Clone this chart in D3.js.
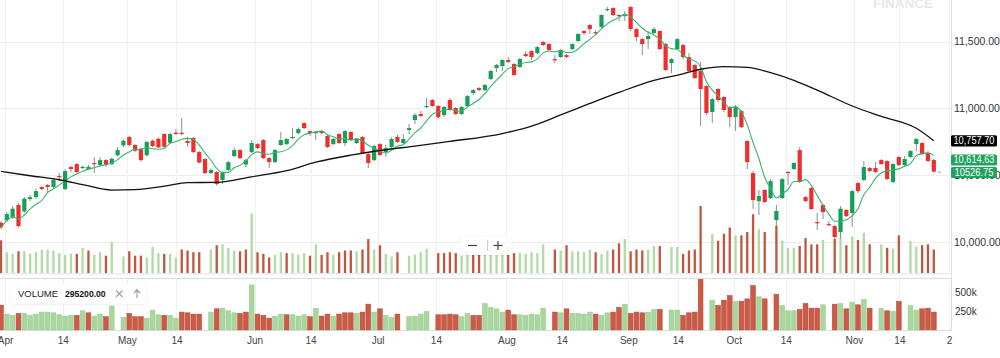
<!DOCTYPE html>
<html><head><meta charset="utf-8">
<script src="https://cdn.jsdelivr.net/npm/d3@7"></script>
<style>
html,body{margin:0;padding:0;background:#fff;}
svg{display:block;font-family:"Liberation Sans",Arial,Helvetica,sans-serif;}
</style></head><body>
<svg id="chart" width="1000" height="358"></svg>
<script>
// ---- DATA (one entry per trading session, oldest first) ----
const open = [10144,10164,10184,10277,10229,10321,10336,10411,10426,10411,
10494,10396,10561,10583,10554,10546,10591,10576,10613,10583,
10649,10723,10786,10726,10698,10649,10758,10773,10808,10743,
10818,10818,10756,10778,10673,10621,10516,10524,10464,10539,
10643,10688,10580,10673,10733,10763,10628,10598,10726,10733,
10778,10815,10890,10830,10815,10830,10793,10733,10808,10741,
10823,10741,10786,10658,10613,10733,10673,10711,10786,10741,
10838,10913,10958,11010,11063,11018,10950,11063,11003,10958,
11018,11115,11152,11137,11220,11302,11317,11362,11332,11310,
11407,11429,11414,11497,11482,11369,11384,11399,11444,11504,
11579,11624,11571,11609,11736,11751,11699,11691,11759,11594,
11519,11519,11564,11579,11482,11339,11444,11474,11384,11325,
11280,11167,10973,11145,11085,11010,10935,10980,10756,10516,
10306,10389,10329,10164,10329,10524,10546,10688,10336,10404,
10149,10277,10134,10119,10074,10240,10217,10441,10464,10554,
10554,10613,10606,10449,10636,10576,10636,10733,10741,10666,10614];
const high = [10157,10224,10269,10292,10336,10351,10400,10422,10434,10479,
10516,10546,10572,10591,10569,10576,10636,10636,10621,10632,
10711,10767,10793,10733,10707,10756,10767,10782,10815,10819,
10845,10928,10786,10786,10681,10628,10550,10531,10527,10606,
10707,10696,10621,10763,10741,10771,10636,10696,10823,10778,
10853,10857,10898,10838,10830,10838,10801,10778,10815,10838,
10830,10778,10793,10666,10726,10741,10726,10786,10801,10808,
10883,10965,10980,11077,11070,11025,11018,11077,11010,11018,
11100,11145,11160,11182,11287,11332,11369,11384,11339,11377,
11429,11437,11467,11504,11489,11399,11444,11407,11489,11564,
11586,11631,11586,11706,11761,11759,11706,11729,11766,11601,
11527,11579,11609,11586,11489,11377,11527,11482,11414,11332,
11347,11175,11077,11152,11092,11018,11025,10988,10763,10531,
10389,10396,10471,10277,10479,10531,10598,10711,10344,10411,
10217,10284,10157,10127,10269,10247,10389,10449,10606,10561,
10598,10621,10613,10591,10643,10643,10688,10778,10748,10681,10621];
const low = [10097,10149,10172,10108,10217,10306,10325,10389,10374,10396,
10456,10389,10524,10516,10546,10539,10516,10569,10561,10576,
10640,10711,10718,10673,10602,10640,10711,10703,10703,10733,
10801,10797,10711,10666,10587,10509,10509,10422,10434,10531,
10636,10621,10561,10666,10696,10621,10554,10591,10718,10726,
10771,10808,10845,10793,10763,10808,10703,10726,10733,10718,
10756,10733,10658,10554,10606,10643,10636,10703,10741,10733,
10808,10883,10935,11003,11010,10928,10935,10980,10950,10950,
11010,11100,11130,11130,11212,11272,11280,11339,11242,11302,
11384,11362,11407,11467,11429,11339,11377,11377,11437,11497,
11549,11557,11549,11601,11726,11691,11654,11654,11579,11504,
11399,11444,11557,11437,11280,11265,11437,11369,11272,11220,
10868,10950,10890,11048,10973,10860,10830,10853,10546,10247,
10202,10292,10321,10119,10321,10426,10539,10441,10299,10240,
10090,10172,10119,10022,10022,10187,10112,10366,10456,10524,
10516,10576,10464,10441,10569,10569,10628,10681,10651,10598,10516];
const close = [10110,10209,10249,10119,10324,10336,10381,10396,10411,10464,
10486,10531,10546,10524,10563,10563,10583,10613,10576,10623,
10688,10758,10726,10683,10613,10748,10718,10708,10713,10808,
10808,10808,10741,10673,10595,10516,10539,10434,10520,10598,
10688,10628,10613,10741,10703,10628,10598,10688,10763,10771,
10786,10845,10853,10815,10823,10815,10711,10771,10741,10830,
10763,10771,10666,10591,10718,10651,10703,10771,10748,10771,
10853,10950,10943,11018,11018,10935,11010,10988,10958,11010,
11092,11137,11137,11175,11280,11325,11362,11347,11250,11369,
11392,11384,11459,11474,11437,11362,11437,11384,11482,11557,
11564,11594,11564,11699,11744,11699,11691,11699,11594,11534,
11482,11542,11594,11444,11287,11369,11519,11384,11280,11227,
11145,10965,11070,11063,10988,10935,11010,10860,10598,10314,
10344,10299,10456,10232,10471,10516,10591,10449,10306,10247,
10142,10224,10127,10037,10249,10194,10381,10381,10561,10531,
10524,10583,10471,10583,10576,10621,10681,10771,10658,10606,10526.75];
// volume (null = no volume bar drawn for that session)
const volume = [330000,211000,194000,220000,220000,194000,211000,238000,238000,228000,
202000,185000,194000,194000,255000,228000,185000,211000,176000,317000,
null,168000,220000,176000,176000,158000,264000,202000,194000,194000,
158000,238000,228000,211000,211000,null,238000,281000,290000,255000,
228000,220000,238000,598000,211000,194000,158000,185000,211000,202000,
202000,185000,202000,176000,290000,185000,211000,185000,211000,228000,
228000,220000,238000,343000,238000,281000,194000,168000,211000,null,
176000,185000,211000,247000,null,202000,202000,211000,202000,176000,
220000,194000,194000,352000,300000,281000,238000,264000,202000,202000,
194000,211000,202000,290000,null,238000,228000,281000,220000,220000,
211000,238000,211000,194000,228000,238000,300000,343000,220000,238000,
228000,238000,273000,273000,null,264000,264000,194000,228000,238000,
673000,null,396000,326000,396000,458000,379000,379000,413000,590000,
440000,413000,null,475000,326000,255000,255000,273000,352000,290000,
290000,334000,null,343000,352000,281000,370000,334000,405000,290000,
null,290000,255000,247000,379000,null,326000,264000,281000,290000,238000];
// volume direction per session (u = up, d = down, - = none)
const volUpDown = [
"d","u","u","d","u","u","u","u","u","u",
"u","u","u","d","u","d","u","u","d","u",
"-","u","d","d","d","u","u","u","d","u",
"u","d","d","d","d","-","u","d","u","u",
"u","d","d","u","d","d","d","u","u","d",
"u","u","u","d","u","d","d","u","d","d",
"d","u","d","d","u","d","u","u","d","-",
"u","u","u","u","-","d","d","d","d","u",
"u","d","d","u","u","u","u","d","d","u",
"u","u","u","u","-","d","u","d","u","u",
"u","u","d","u","u","d","d","u","d","d",
"d","u","u","d","-","u","u","d","d","d",
"d","-","u","d","d","d","u","d","d","d",
"u","d","-","d","u","u","u","d","d","d",
"d","u","-","d","u","d","u","d","u","d",
"-","u","d","u","d","-","u","u","d","d","d"];
// long moving average at selected sessions
const maLongIdx = [0,5,10,14,19,23,28,32,37,43,49,54,60,65,71,77,86,91,96,101,106,112,117,120,124,128,132,136,140,146,151,157,160];
const maLongVal = [10529,10496,10466,10430,10389,10392,10418,10445,10446,10488,10534,10597,10650,10685,10718,10753,10812,10867,10951,11037,11120,11210,11259,11293,11313,11307,11267,11210,11137,11018,10940,10851,10757.70];
const maShortPeriod = 5;
// x-axis ticks (session position) and labels
const tickPos = [0.7,10.6,21.6,30.1,43.5,53.1,64.6,74.6,86.7,96.2,107.6,116.1,125.7,134.6,146.3,154.1,162.6];
const tickLabels = ["Apr","14","May","14","Jun","14","Jul","14","Aug","14","Sep","14","Oct","14","Nov","14","2"];
const priceTicks = [10000,10500,11000,11500];
const volTicks = [250000,500000];
const volLegendValue = "295200.00";
const tagValues = [10757.70, 10614.63, 10526.75];
const tagTexts = ["10,757.70", "10,614.63", "10526.75"];
const tagKinds = ["long", "short", "last"];

// ---- DRAWING ----
const svg = d3.select("#chart");
const plotR = 951;
const x = d3.scaleLinear().domain([0,160]).range([1,933.8]);
const y = d3.scaleLinear().domain([10000,11500]).range([242,41.6]);
const vOver = d3.scaleLinear().domain([0,700000]).range([273.3,203.3]);
const vPanel = d3.scaleLinear().domain([0,500000]).range([330,292.3]);
const UP="#12a15a", DN="#f02c2c";

const defs = svg.append("defs");
defs.append("clipPath").attr("id","cm").append("rect").attr("x",0).attr("y",0).attr("width",plotR).attr("height",273.3);
defs.append("clipPath").attr("id","cp").append("rect").attr("x",0).attr("y",278.5).attr("width",plotR).attr("height",52);
const f = defs.append("filter").attr("id","sh").attr("x","-10%").attr("y","-30%").attr("width","120%").attr("height","160%");
f.append("feDropShadow").attr("dx",0).attr("dy",0.5).attr("stdDeviation",1.2).attr("flood-color","#000").attr("flood-opacity",0.12);

// watermark
svg.append("text").attr("x",903).attr("y",8.3).attr("text-anchor","middle")
  .attr("font-size",13.5).attr("font-weight","bold").attr("fill","#e8e8e8").text("FINANCE");

// grid
const grid = svg.append("g");
grid.selectAll("line.h").data(priceTicks).join("line")
  .attr("x1",0).attr("x2",plotR).attr("y1",d=>Math.round(y(d))+0.5).attr("y2",d=>Math.round(y(d))+0.5)
  .attr("stroke","#ececec");
grid.selectAll("line.v").data(tickPos).join("line")
  .attr("x1",d=>Math.round(x(d))+0.5).attr("x2",d=>Math.round(x(d))+0.5).attr("y1",0).attr("y2",273)
  .attr("stroke","#f0f0f0");
grid.selectAll("line.v2").data(tickPos).join("line")
  .attr("x1",d=>Math.round(x(d))+0.5).attr("x2",d=>Math.round(x(d))+0.5).attr("y1",279).attr("y2",330)
  .attr("stroke","#f0f0f0");

const idx = d3.range(close.length);

// volume overlay in main panel
const gO = svg.append("g").attr("clip-path","url(#cm)");
gO.selectAll("rect").data(idx.filter(i=>volume[i]!=null)).join("rect")
  .attr("x",i=>x(i)-1.15).attr("width",2.3)
  .attr("y",i=>vOver(volume[i])).attr("height",i=>vOver(0)-vOver(volume[i]))
  .attr("fill",i=>volUpDown[i]==="u"?"#b1daa4":"#c2553f");

// frame lines
svg.append("line").attr("x1",0).attr("x2",plotR).attr("y1",273.8).attr("y2",273.8).attr("stroke","#dde2e8");
svg.append("line").attr("x1",plotR+0.5).attr("x2",plotR+0.5).attr("y1",0).attr("y2",331).attr("stroke","#dde2e8");
svg.append("rect").attr("x",-1).attr("y",278.5).attr("width",plotR+1.5).attr("height",52)
  .attr("fill","none").attr("stroke","#d6dde6");

// candles
const gC = svg.append("g").attr("clip-path","url(#cm)");
gC.selectAll("line").data(idx).join("line")
  .attr("x1",i=>x(i)).attr("x2",i=>x(i)).attr("y1",i=>y(high[i])).attr("y2",i=>y(low[i]))
  .attr("stroke","#8e8e8e").attr("stroke-width",1);
gC.selectAll("rect").data(idx).join("rect")
  .attr("x",i=>x(i)-2.1).attr("width",4.2)
  .attr("y",i=>y(Math.max(open[i],close[i])))
  .attr("height",i=>Math.max(1.2,Math.abs(y(open[i])-y(close[i]))))
  .attr("fill",i=>close[i]>=open[i]?UP:DN);

// moving averages
const maShort = idx.map(i=>{const s=Math.max(0,i-maShortPeriod+1);return d3.mean(close.slice(s,i+1));});
gC.append("path").datum(idx).attr("fill","none").attr("stroke","#3bb36f").attr("stroke-width",1.1)
  .attr("d",d3.line().x(i=>x(i)).y(i=>y(maShort[i])).curve(d3.curveMonotoneX));
gC.append("path").datum(d3.range(maLongIdx.length)).attr("fill","none").attr("stroke","#111").attr("stroke-width",1.3)
  .attr("d",d3.line().x(k=>x(maLongIdx[k])).y(k=>y(maLongVal[k])).curve(d3.curveMonotoneX));
// last price marker
svg.append("line").attr("x1",x(160)+4).attr("x2",x(160)+7).attr("y1",y(close[160])+0.5).attr("y2",y(close[160])+0.5)
  .attr("stroke","#999");

// volume panel
const gP = svg.append("g").attr("clip-path","url(#cp)");
gP.selectAll("rect").data(idx.filter(i=>volume[i]!=null)).join("rect")
  .attr("x",i=>x(i)-2.4).attr("width",4.8)
  .attr("y",i=>vPanel(volume[i])).attr("height",i=>vPanel(0)-vPanel(volume[i]))
  .attr("fill",i=>volUpDown[i]==="u"?"#a9d69e":"#cb5b47")
  .attr("stroke",i=>volUpDown[i]==="u"?"#97ca8b":"#b0452f").attr("stroke-width",0.5);

// axes
const ay = svg.append("g").attr("transform",`translate(${plotR},0)`)
  .call(d3.axisRight(y).tickValues(priceTicks).tickFormat(d3.format(",.2f")).tickSize(0).tickPadding(3));
ay.select(".domain").remove();
ay.selectAll("text").attr("font-size",10.5).attr("fill","#333").attr("font-family","Liberation Sans,Arial,sans-serif");

const av = svg.append("g").attr("transform",`translate(${plotR},0)`)
  .call(d3.axisRight(vPanel).tickValues(volTicks).tickFormat(d=>(d/1000)+"k").tickSize(0).tickPadding(4));
av.select(".domain").remove();
av.selectAll("text").attr("font-size",10).attr("fill","#333").attr("font-family","Liberation Sans,Arial,sans-serif");

const ax = svg.append("g").attr("transform","translate(0,331)")
  .call(d3.axisBottom(x).tickValues(tickPos).tickFormat((d,i)=>tickLabels[i]).tickSize(0).tickPadding(6));
ax.select(".domain").remove();
ax.selectAll("text").attr("font-size",10).attr("fill","#444").attr("font-family","Liberation Sans,Arial,sans-serif");

// price tags (drawn over the axis)
let prevBottom = -1e9;
tagValues.forEach((v,k)=>{
  let top = y(v)-5.5;
  if (top < prevBottom+1.5) top = prevBottom+1.5;
  prevBottom = top+11;
  const col = tagKinds[k]==="long" ? "#000" : "#1ea55d";
  svg.append("rect").attr("x",plotR).attr("y",top).attr("width",46).attr("height",11.2).attr("rx",1.5).attr("fill",col);
  svg.append("text").attr("x",plotR+23).attr("y",top+9).attr("text-anchor","middle")
    .attr("font-size",10).attr("textLength",tagTexts[k].length>8?41:39).attr("lengthAdjust","spacingAndGlyphs")
    .attr("fill","#fff").text(tagTexts[k]);
});

// zoom widget
const zw = svg.append("g");
zw.append("rect").attr("x",460.5).attr("y",236.5).attr("width",51).attr("height",18.5).attr("rx",3)
  .attr("fill","#fff").attr("fill-opacity",0.92).attr("filter","url(#sh)");
zw.append("line").attr("x1",468).attr("x2",477).attr("y1",245.5).attr("y2",245.5).attr("stroke","#444").attr("stroke-width",1.2);
zw.append("line").attr("x1",487.5).attr("x2",487.5).attr("y1",240).attr("y2",251).attr("stroke","#ccc");
zw.append("line").attr("x1",493.5).attr("x2",502.5).attr("y1",245.5).attr("y2",245.5).attr("stroke","#444").attr("stroke-width",1.2);
zw.append("line").attr("x1",498).attr("x2",498).attr("y1",241).attr("y2",250).attr("stroke","#444").attr("stroke-width",1.2);

// volume legend
const lg = svg.append("g");
lg.append("rect").attr("x",10.5).attr("y",283.5).attr("width",136).attr("height",20).attr("rx",4)
  .attr("fill","#fff").attr("filter","url(#sh)");
lg.append("text").attr("x",18).attr("y",297).attr("font-size",9.5).attr("fill","#222").text("VOLUME");
lg.append("text").attr("x",65).attr("y",297).attr("font-size",8.6).attr("font-weight","bold").attr("fill","#111").text(volLegendValue);
lg.append("path").attr("d","M116,290.5 L122.5,297 M122.5,290.5 L116,297").attr("stroke","#999").attr("stroke-width",1.1);
lg.append("path").attr("d","M137,298 L137,290 M133.8,293 L137,289.8 L140.2,293").attr("stroke","#999").attr("stroke-width",1.1).attr("fill","none");
</script>
</body></html>
